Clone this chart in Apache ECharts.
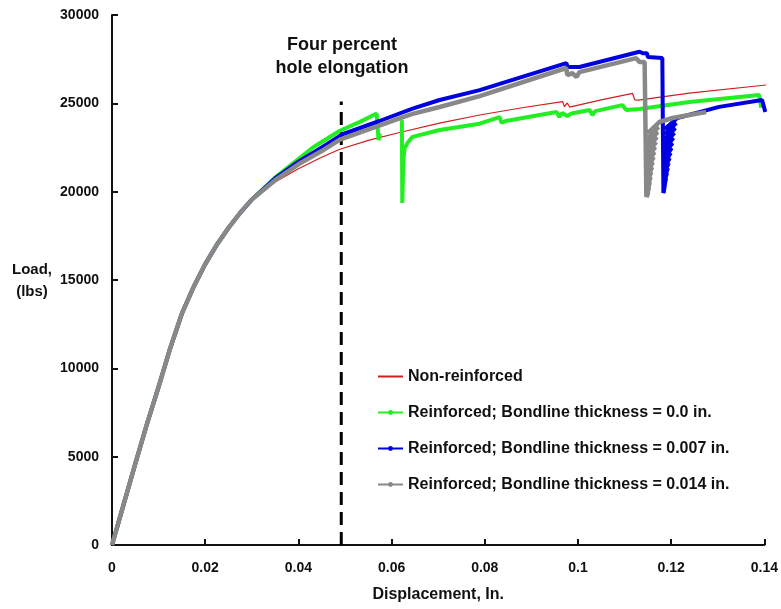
<!DOCTYPE html>
<html>
<head>
<meta charset="utf-8">
<script src="https://cdn.jsdelivr.net/npm/echarts@6/dist/echarts.min.js"></script>
<style>html,body{margin:0;padding:0;background:#fff}#c{width:781px;height:609px}</style>
</head>
<body>
<div id="c"></div>
<script>
var seriesNames = ['Non-reinforced','Reinforced; Bondline thickness = 0.0 in.','Reinforced; Bondline thickness = 0.007 in.','Reinforced; Bondline thickness = 0.014 in.'];
var xTicks = {min:0, max:0.14, interval:0.02};
var yTicks = {min:0, max:30000, interval:5000};

var commonStart = [[0,0],[0.0025,2300],[0.005,4600],[0.0075,6850],[0.01,8950],[0.0125,11150],[0.015,13100],[0.0175,14600],[0.02,15900],[0.0225,17000],[0.025,17950],[0.0275,18800],[0.03,19550]];

var nonReinforced = [[0.035,20550],[0.04,21300],[0.045,21950],[0.0489,22400],[0.055,22900],[0.0617,23350],[0.0703,23880],[0.0789,24340],[0.088,24750],[0.0967,25100],[0.0971,24810],[0.0977,25020],[0.0982,24790],[0.105,25200],[0.1117,25560],[0.1122,25200],[0.113,25180],[0.1239,25580],[0.1404,26040]];

var bond000 = [[0.035,20800],[0.04,21850],[0.0431,22500],[0.0489,23450],[0.0532,23950],[0.0568,24420],[0.057,24450],[0.0572,22920],[0.0575,23300],[0.06,'-'],[0.0622,24050],[0.0623,19360],[0.0625,21700],[0.0628,22450],[0.0635,22800],[0.0645,23100],[0.0703,23490],[0.0789,23850],[0.0832,24225],[0.0836,23900],[0.0845,24000],[0.0954,24510],[0.096,24230],[0.0966,24450],[0.0977,24280],[0.0986,24420],[0.1025,24620],[0.1031,24340],[0.1037,24560],[0.1095,24900],[0.1104,24620],[0.1132,24680],[0.1239,25070],[0.1389,25470],[0.1393,24750]];

var bond007 = [[0.035,20750],[0.04,21700],[0.045,22500],[0.0495,23250],[0.0574,24000],[0.0645,24700],[0.0703,25190],[0.0789,25750],[0.0975,27280],[0.0978,27050],[0.1003,27060],[0.1132,27920],[0.114,27830],[0.1148,27830],[0.115,27620],[0.1181,27560],
[0.11833,19923],[0.11852,20206],[0.11838,19923],[0.11871,20489],[0.1184,20150],[0.11892,20772],[0.1184,20433],[0.11912,21055],[0.11844,20716],[0.11931,21338],[0.11844,20999],[0.1195,21621],[0.11848,21282],[0.1197,21904],[0.11848,21565],[0.11991,22187],[0.11852,21848],[0.12011,22470],[0.11854,22131],[0.1203,22753],[0.11854,22414],[0.12049,23036],[0.11858,22697],[0.12069,23319],[0.11858,22980],[0.1209,23602],[0.11865,23263],[0.12109,23885],[0.11865,23546],[0.12129,24168],
[0.1303,24800],[0.1395,25190],[0.1402,24510]];

var bond014 = [[0.035,20650],[0.04,21550],[0.045,22300],[0.0489,22950],[0.0617,24150],[0.0645,24400],[0.0703,24790],[0.0789,25410],[0.0975,27000],[0.0977,26600],[0.0988,26715],[0.0997,26490],[0.1003,26770],[0.1125,27560],[0.1132,27340],[0.1143,27340],
[0.11468,19697],[0.11507,19980],[0.11475,19697],[0.11524,20263],[0.11475,19923],[0.11541,20546],[0.11479,20206],[0.11558,20829],[0.11479,20489],[0.11573,21112],[0.11483,20772],[0.11591,21395],[0.11483,21055],[0.11608,21678],[0.11488,21338],[0.11625,21961],[0.11488,21621],[0.11642,22244],[0.11492,21904],[0.11659,22527],[0.11492,22187],[0.11676,22810],[0.11496,22470],[0.11693,23093],[0.11496,22753],[0.1171,23376],[0.11501,23036],[0.11727,23659],[0.11501,23319],[0.11744,23942],
[0.1203,24170],[0.1239,24340],[0.1275,24510]];

var dashX = 0.0492, dashTop = 25100;
var annotation = ['Four percent','hole elongation'];
var yName = ['Load,','(lbs)'];
var xName = 'Displacement, In.';

var chart = echarts.init(document.getElementById('c'));
var fam = 'Arial, "Liberation Sans", sans-serif';
var lblFont = {fontFamily:fam, fontWeight:'bold', fontSize:14, color:'#111'};
chart.setOption({
  animation:false,
  backgroundColor:'#fff',
  grid:{left:112, right:16, top:15, bottom:64},
  xAxis:{type:'value', min:xTicks.min, max:xTicks.max, interval:xTicks.interval,
    axisLine:{lineStyle:{color:'#111', width:2}},
    axisTick:{inside:true, length:6, lineStyle:{color:'#111', width:2}},
    splitLine:{show:false},
    axisLabel:Object.assign({margin:16, formatter:function(v){return String(v);}}, lblFont),
    name:xName, nameLocation:'middle', nameGap:42,
    nameTextStyle:{fontFamily:fam, fontWeight:'bold', fontSize:16, color:'#111'}
  },
  yAxis:{type:'value', min:yTicks.min, max:yTicks.max, interval:yTicks.interval,
    axisLine:{show:true, lineStyle:{color:'#111', width:2}},
    axisTick:{show:true, inside:true, length:6, lineStyle:{color:'#111', width:2}},
    splitLine:{show:false},
    axisLabel:Object.assign({margin:13, formatter:function(v){return String(v);}}, lblFont)
  },
  legend:{orient:'vertical', left:372, top:362, itemWidth:25, itemHeight:6, itemGap:17,
    selectedMode:false,
    data:[{name:seriesNames[0], itemStyle:{opacity:0}}, seriesNames[1], seriesNames[2], seriesNames[3]],
    textStyle:{fontFamily:fam, fontWeight:'bold', fontSize:16, color:'#111', lineHeight:19}},
  graphic:[
    {type:'text', style:{text:annotation.join('\n'), x:342, y:34, textAlign:'center', font:'bold 18px ' + fam, fill:'#111', lineHeight:23}},
    {type:'text', style:{text:yName.join('\n'), x:32, y:259, textAlign:'center', font:'bold 15px ' + fam, fill:'#111', lineHeight:22}}
  ],
  series:[
    {name:'dash', type:'line', data:[[dashX,0],[dashX,dashTop]], symbol:'none', silent:true,
      lineStyle:{color:'#000', width:3, type:[13,7]}, z:1},
    {name:seriesNames[0], type:'line', data:commonStart.concat(nonReinforced), symbol:'none',
      itemStyle:{color:'#cc2020'}, lineStyle:{color:'#cc2020', width:1.2}, z:2},
    {name:seriesNames[1], type:'line', data:commonStart.concat(bond000), symbol:'circle', symbolSize:5, showSymbol:false,
      itemStyle:{color:'#22ee22'}, lineStyle:{color:'#22ee22', width:4}, z:3},
    {name:seriesNames[2], type:'line', data:commonStart.concat(bond007), symbol:'circle', symbolSize:5, showSymbol:false,
      itemStyle:{color:'#0000e0'}, lineStyle:{color:'#0000e0', width:4}, z:4},
    {name:seriesNames[3], type:'line', data:commonStart.concat(bond014), symbol:'circle', symbolSize:5, showSymbol:false,
      itemStyle:{color:'#888888'}, lineStyle:{color:'#888888', width:4.5}, z:5}
  ]
});
</script>
</body>
</html>
